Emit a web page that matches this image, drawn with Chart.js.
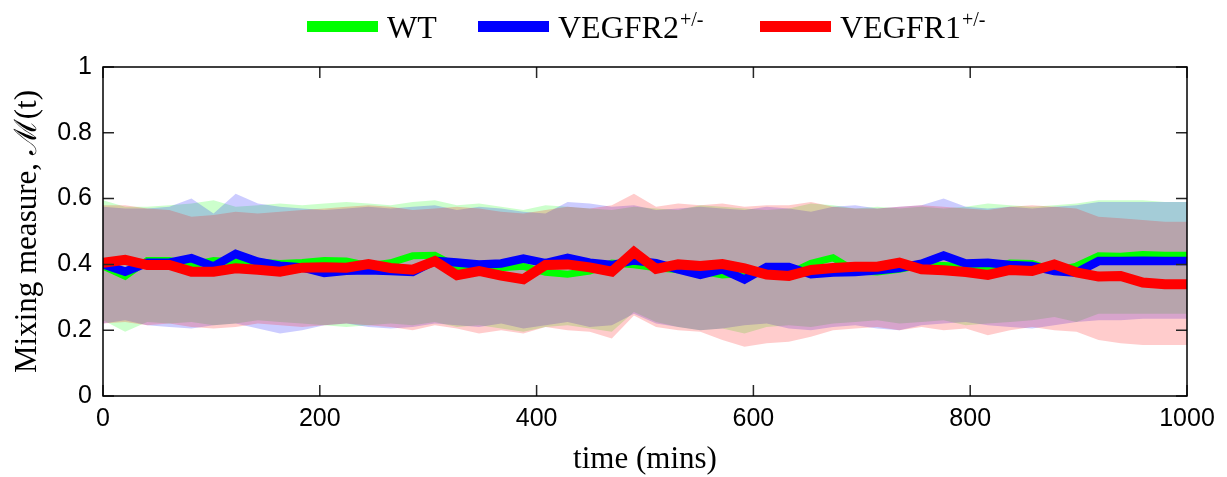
<!DOCTYPE html>
<html>
<head>
<meta charset="utf-8">
<script src="https://cdn.jsdelivr.net/npm/chart.js@4.4.0/dist/chart.umd.min.js"></script>
<style>
  body { margin: 0; background: #fff; }
  canvas { display: block; }
</style>
</head>
<body>
<canvas id="graf" width="1227" height="477"></canvas>
<script>
// time points (mins)
let tempos = [0, 20.4, 40.8, 61.2, 81.6, 102.0, 122.4, 142.9, 163.3, 183.7,
  204.1, 224.5, 244.9, 265.3, 285.7, 306.1, 326.5, 346.9, 367.3, 387.8,
  408.2, 428.6, 449.0, 469.4, 489.8, 510.2, 530.6, 551.0, 571.4, 591.8,
  612.2, 632.7, 653.1, 673.5, 693.9, 714.3, 734.7, 755.1, 775.5, 795.9,
  816.3, 836.7, 857.1, 877.6, 898.0, 918.4, 938.8, 959.2, 979.6, 1000]

let nomes = ['WT', 'VEGFR2', 'VEGFR1']
let expoentes = ['', '+/-', '+/-']

let wtMedia = [0.395, 0.364, 0.412, 0.412, 0.398, 0.412, 0.407, 0.407, 0.403, 0.406,
  0.412, 0.410, 0.396, 0.405, 0.426, 0.428, 0.393, 0.388, 0.390, 0.394,
  0.376, 0.370, 0.380, 0.404, 0.399, 0.390, 0.384, 0.380, 0.368, 0.372,
  0.376, 0.372, 0.403, 0.420, 0.380, 0.377, 0.385, 0.398, 0.397, 0.394,
  0.390, 0.404, 0.403, 0.380, 0.395, 0.426, 0.425, 0.430, 0.428, 0.428]
let wtSup = [0.595, 0.575, 0.575, 0.580, 0.585, 0.595, 0.575, 0.580, 0.585, 0.580,
  0.585, 0.590, 0.585, 0.580, 0.590, 0.595, 0.580, 0.585, 0.575, 0.565,
  0.580, 0.575, 0.570, 0.565, 0.575, 0.570, 0.565, 0.580, 0.575, 0.570,
  0.565, 0.570, 0.585, 0.580, 0.570, 0.575, 0.570, 0.575, 0.570, 0.575,
  0.585, 0.580, 0.575, 0.580, 0.585, 0.595, 0.595, 0.595, 0.590, 0.590]
let wtInf = [0.230, 0.195, 0.225, 0.220, 0.225, 0.215, 0.220, 0.230, 0.225, 0.220,
  0.215, 0.210, 0.215, 0.220, 0.215, 0.225, 0.210, 0.215, 0.205, 0.195,
  0.210, 0.215, 0.205, 0.195, 0.255, 0.225, 0.210, 0.200, 0.205, 0.190,
  0.210, 0.215, 0.210, 0.220, 0.225, 0.230, 0.220, 0.225, 0.230, 0.215,
  0.220, 0.225, 0.230, 0.240, 0.225, 0.250, 0.250, 0.250, 0.250, 0.250]

let r2Media = [0.400, 0.378, 0.405, 0.405, 0.419, 0.394, 0.432, 0.408, 0.396, 0.391,
  0.374, 0.381, 0.382, 0.380, 0.377, 0.411, 0.406, 0.400, 0.403, 0.418,
  0.404, 0.420, 0.405, 0.398, 0.412, 0.404, 0.385, 0.368, 0.385, 0.354,
  0.392, 0.392, 0.370, 0.375, 0.377, 0.382, 0.389, 0.402, 0.427, 0.403,
  0.405, 0.398, 0.395, 0.380, 0.375, 0.410, 0.410, 0.411, 0.410, 0.410]
let r2Sup = [0.575, 0.570, 0.570, 0.575, 0.600, 0.555, 0.615, 0.585, 0.575, 0.570,
  0.565, 0.570, 0.575, 0.570, 0.575, 0.580, 0.565, 0.575, 0.570, 0.560,
  0.555, 0.590, 0.585, 0.575, 0.580, 0.565, 0.570, 0.575, 0.570, 0.565,
  0.575, 0.570, 0.560, 0.575, 0.580, 0.570, 0.575, 0.580, 0.600, 0.575,
  0.570, 0.575, 0.570, 0.575, 0.580, 0.590, 0.590, 0.590, 0.590, 0.590]
let r2Inf = [0.220, 0.230, 0.215, 0.210, 0.205, 0.215, 0.220, 0.205, 0.190, 0.200,
  0.215, 0.220, 0.210, 0.205, 0.210, 0.220, 0.215, 0.210, 0.220, 0.205,
  0.215, 0.225, 0.210, 0.215, 0.250, 0.220, 0.210, 0.200, 0.205, 0.215,
  0.220, 0.205, 0.200, 0.210, 0.215, 0.205, 0.200, 0.215, 0.220, 0.225,
  0.215, 0.210, 0.205, 0.215, 0.225, 0.230, 0.230, 0.235, 0.235, 0.235]

let r1Media = [0.405, 0.414, 0.398, 0.398, 0.378, 0.378, 0.388, 0.384, 0.378, 0.390,
  0.391, 0.390, 0.401, 0.389, 0.384, 0.410, 0.367, 0.380, 0.366, 0.355,
  0.398, 0.400, 0.391, 0.378, 0.438, 0.386, 0.400, 0.395, 0.401, 0.388,
  0.369, 0.365, 0.383, 0.389, 0.393, 0.393, 0.405, 0.385, 0.382, 0.377,
  0.368, 0.383, 0.380, 0.400, 0.376, 0.363, 0.365, 0.345, 0.340, 0.340]
let r1Sup = [0.580, 0.580, 0.570, 0.565, 0.545, 0.550, 0.560, 0.555, 0.560, 0.565,
  0.570, 0.575, 0.580, 0.575, 0.565, 0.570, 0.575, 0.570, 0.560, 0.555,
  0.565, 0.575, 0.570, 0.580, 0.615, 0.575, 0.585, 0.580, 0.585, 0.575,
  0.580, 0.580, 0.590, 0.575, 0.570, 0.570, 0.575, 0.580, 0.575, 0.570,
  0.565, 0.575, 0.580, 0.575, 0.570, 0.545, 0.540, 0.535, 0.530, 0.530]
let r1Inf = [0.220, 0.225, 0.215, 0.220, 0.210, 0.205, 0.210, 0.220, 0.215, 0.210,
  0.215, 0.220, 0.215, 0.210, 0.200, 0.215, 0.205, 0.190, 0.200, 0.190,
  0.210, 0.200, 0.195, 0.175, 0.245, 0.210, 0.200, 0.195, 0.170, 0.150,
  0.160, 0.165, 0.180, 0.200, 0.205, 0.210, 0.200, 0.210, 0.200, 0.205,
  0.185, 0.200, 0.210, 0.200, 0.195, 0.170, 0.160, 0.155, 0.155, 0.155]

let xTicks = [0, 200, 400, 600, 800, 1000]
let xTickLabels = ['0', '200', '400', '600', '800', '1000']
let yTicks = [0, 0.2, 0.4, 0.6, 0.8, 1]
let yTickLabels = ['0', '0.2', '0.4', '0.6', '0.8', '1']

let cores = ['rgb(0,255,0)', 'rgb(0,0,255)', 'rgb(255,0,0)']
let coresFaixa = ['rgba(0,255,0,0.2)', 'rgba(0,0,255,0.2)', 'rgba(255,0,0,0.2)']

function pts(ys) {
  let out = []
  for (let i = 0; i < tempos.length; i++) out.push({ x: tempos[i], y: ys[i] })
  return out
}

function faixa(sup, inf, cor, ord) {
  return [
    { data: pts(sup), fill: '+1', backgroundColor: cor, borderWidth: 0, pointRadius: 0, order: ord, clip: 0 },
    { data: pts(inf), fill: false, borderWidth: 0, pointRadius: 0, order: ord, clip: 0 }
  ]
}

function linha(ys, cor, larg, ord) {
  return { data: pts(ys), borderColor: cor, borderWidth: larg, fill: false, pointRadius: 0,
    tension: 0, borderJoinStyle: 'miter', order: ord, clip: 0 }
}

const datasets = [
  ...faixa(wtSup, wtInf, coresFaixa[0], 12),
  ...faixa(r2Sup, r2Inf, coresFaixa[1], 11),
  ...faixa(r1Sup, r1Inf, coresFaixa[2], 10),
  linha(wtMedia, cores[0], 7, 3),
  linha(r2Media, cores[1], 8.5, 2),
  linha(r1Media, cores[2], 10, 1)
]

// box round the axes with inward ticks
const moldura = {
  id: 'moldura',
  afterDraw(chart) {
    const { ctx, chartArea: a, scales } = chart
    ctx.save()
    ctx.strokeStyle = '#262626'
    ctx.lineWidth = 1.5
    ctx.beginPath()
    xTicks.forEach(v => {
      let px = scales.x.getPixelForValue(v)
      ctx.moveTo(px, a.bottom); ctx.lineTo(px, a.bottom - 11)
      ctx.moveTo(px, a.top); ctx.lineTo(px, a.top + 11)
    })
    yTicks.forEach(v => {
      let py = scales.y.getPixelForValue(v)
      ctx.moveTo(a.left, py); ctx.lineTo(a.left + 11, py)
      ctx.moveTo(a.right, py); ctx.lineTo(a.right - 11, py)
    })
    ctx.stroke()
    ctx.strokeStyle = '#000'
    ctx.strokeRect(a.left, a.top, a.right - a.left, a.bottom - a.top)
    ctx.restore()
  }
}

// legend with superscripts
const legenda = {
  id: 'legenda',
  afterDraw(chart) {
    const ctx = chart.ctx
    let xs = [307, 478, 760]
    ctx.save()
    for (let i = 0; i < nomes.length; i++) {
      ctx.fillStyle = cores[i]
      ctx.fillRect(xs[i], 21, 71, 11)
      ctx.fillStyle = '#000'
      ctx.font = '32px "Liberation Serif", serif'
      ctx.textBaseline = 'alphabetic'
      ctx.fillText(nomes[i], xs[i] + 80, 38)
      if (expoentes[i]) {
        let w = ctx.measureText(nomes[i]).width
        ctx.font = '20px "Liberation Serif", serif'
        ctx.fillText(expoentes[i], xs[i] + 81 + w, 26)
      }
    }
    ctx.restore()
  }
}

const ctx = document.getElementById('graf').getContext('2d')

new Chart(ctx, {
  type: 'line',
  data: { datasets: datasets },
  options: {
    responsive: false,
    animation: false,
    events: [],
    layout: { padding: { top: 67, right: 40, bottom: 0, left: 0 } },
    plugins: { legend: { display: false }, tooltip: { enabled: false } },
    scales: {
      x: {
        type: 'linear', min: 0, max: 1000,
        afterBuildTicks: s => { s.ticks = xTicks.map(v => ({ value: v })) },
        afterFit: s => { s.height = 81 },
        grid: { display: false, drawTicks: false },
        border: { display: false },
        ticks: { color: '#000', padding: 8, maxRotation: 0,
          callback: (v, i) => xTickLabels[i],
          font: { family: '"Liberation Sans", Arial, sans-serif', size: 25 } },
        title: { display: true, text: 'time (mins)', color: '#000',
          padding: { top: 0, bottom: 2 },
          font: { family: '"Liberation Serif", serif', size: 31, lineHeight: 1 } }
      },
      y: {
        type: 'linear', min: 0, max: 1,
        afterBuildTicks: s => { s.ticks = yTicks.map(v => ({ value: v })) },
        afterFit: s => { s.width = 103 },
        grid: { display: false, drawTicks: false },
        border: { display: false },
        ticks: { color: '#000', padding: 11,
          callback: (v, i) => yTickLabels[i],
          font: { family: '"Liberation Sans", Arial, sans-serif', size: 25 } },
        title: { display: true, text: 'Mixing measure, ℳ(t)', color: '#000',
          padding: { top: 12, bottom: 0 },
          font: { family: '"Liberation Serif", serif', size: 31, lineHeight: 1 } }
      }
    }
  },
  plugins: [moldura, legenda]
})
</script>
</body>
</html>
